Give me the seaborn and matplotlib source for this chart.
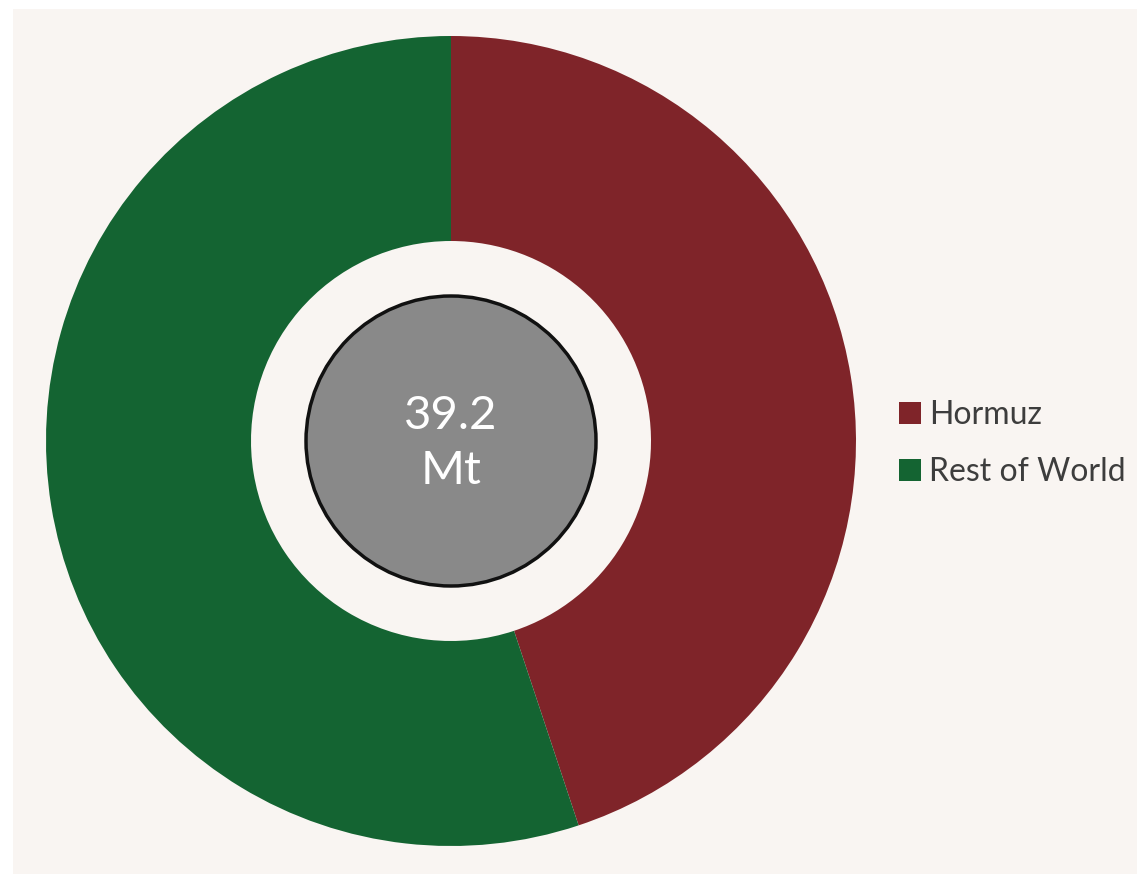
import matplotlib
matplotlib.use("Agg")
import matplotlib.pyplot as plt
import seaborn as sns
from matplotlib.patches import Rectangle, Circle

categories = ["Hormuz", "Rest of World"]
values = [17.6, 21.6]
colors = ["#7f2429", "#146432"]
center_value = "39.2"
center_unit = "Mt"

sns.set_theme(style="white")
plt.rcParams["font.family"] = ["Lato", "DejaVu Sans"]

W, H = 1137, 874
fig = plt.figure(figsize=(W / 100, H / 100), dpi=100, facecolor="white")
bg = "#f9f5f2"
fig.patches.append(Rectangle((13 / W, 0), 1 - 13 / W, 1 - 9 / H,
                             transform=fig.transFigure, facecolor=bg,
                             edgecolor="none", zorder=-10))

cx, cy, R = 451, H - 441, 405
ax = fig.add_axes([(cx - R) / W, (cy - R) / H, 2 * R / W, 2 * R / H])
ax.set_facecolor("none")
palette = sns.color_palette(colors)
wedges, _ = ax.pie(values, colors=palette, startangle=90, counterclock=False,
                   radius=1, wedgeprops=dict(width=1 - 200 / R, edgecolor="none"))
ax.add_patch(Circle((0, 0), 145 / R, facecolor="#898989", edgecolor="#111111",
                    linewidth=2.5, zorder=5))
ax.text(0, -2.5 / R, f"{center_value}\n{center_unit}", ha="center", va="center",
        color="white", fontsize=34, linespacing=1.38, zorder=6)
ax.set_xlim(-1, 1)
ax.set_ylim(-1, 1)
ax.set_aspect("equal")
ax.axis("off")

fig.legend(wedges, categories, loc="center left",
           bbox_to_anchor=(899 / W, (H - 443.5) / H), frameon=False,
           fontsize=23, handlelength=0.68, handleheight=0.68,
           handletextpad=0.25, labelspacing=0.85, borderpad=0,
           borderaxespad=0, labelcolor="#3d3d3d")

fig.savefig("out.png", dpi=100, facecolor="white")
